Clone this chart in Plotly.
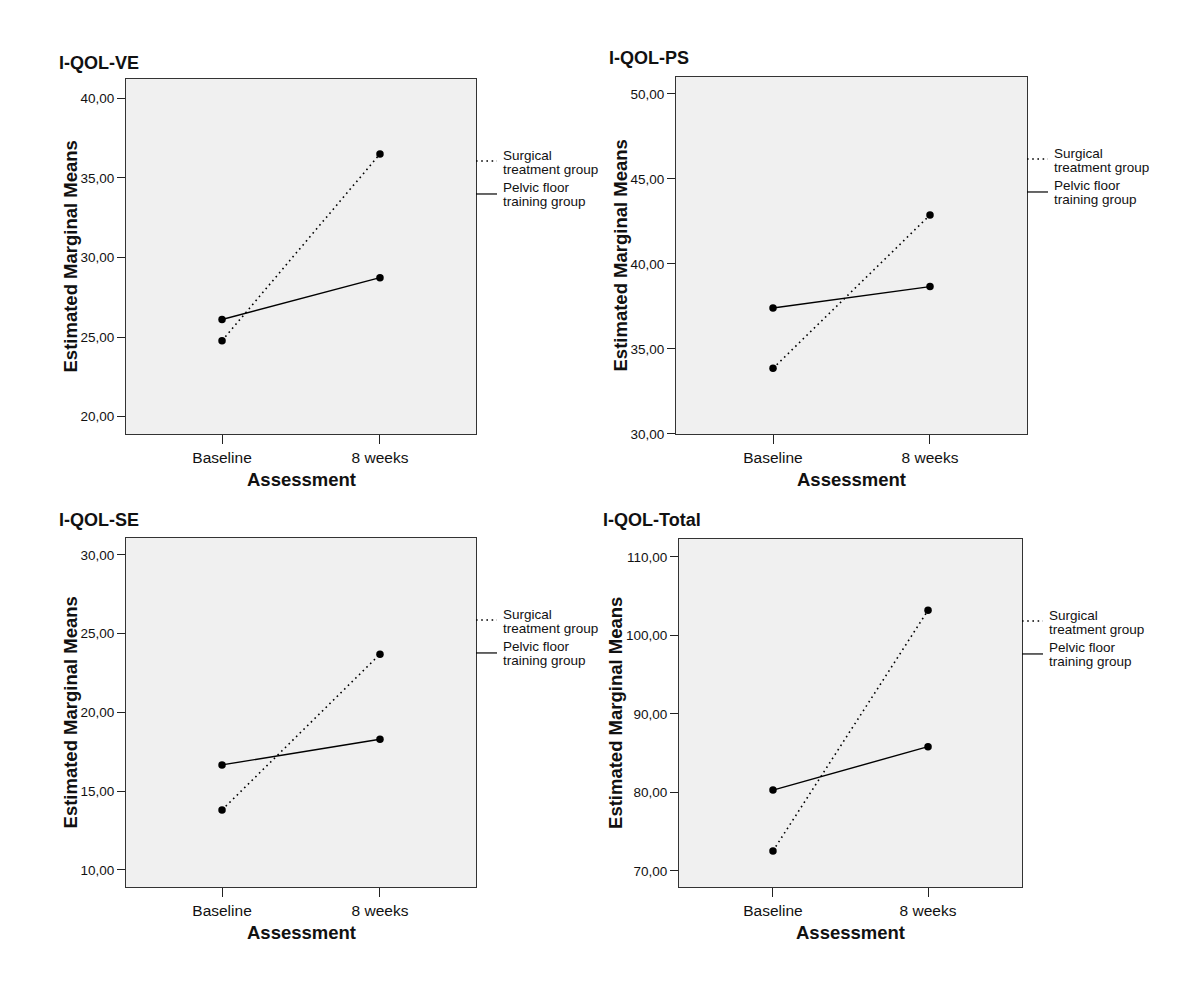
import plotly.graph_objects as go

# ---------------- data ----------------
assessments = ["Baseline", "8 weeks"]
groups = ["Surgical treatment group", "Pelvic floor training group"]

panel_titles = ["I-QOL-VE", "I-QOL-PS", "I-QOL-SE", "I-QOL-Total"]

surgical_ve = [24.77, 36.50]
pelvic_ve = [26.10, 28.73]

surgical_ps = [33.86, 42.88]
pelvic_ps = [37.41, 38.67]

surgical_se = [13.81, 23.70]
pelvic_se = [16.67, 18.30]

surgical_total = [72.55, 103.20]
pelvic_total = [80.30, 85.83]

ticks_ve = [20, 25, 30, 35, 40]
ticklabels_ve = ["20,00", "25,00", "30,00", "35,00", "40,00"]
ticks_ps = [30, 35, 40, 45, 50]
ticklabels_ps = ["30,00", "35,00", "40,00", "45,00", "50,00"]
ticks_se = [10, 15, 20, 25, 30]
ticklabels_se = ["10,00", "15,00", "20,00", "25,00", "30,00"]
ticks_total = [70, 80, 90, 100, 110]
ticklabels_total = ["70,00", "80,00", "90,00", "100,00", "110,00"]

legend_lines = [["Surgical", "treatment group"], ["Pelvic floor", "training group"]]

# ---------------- layout helpers ----------------
W, H = 1200, 1002
YS = 1010 / 1002  # small vertical correction measured on the rendered page
FONT = "Liberation Sans, Arial, Helvetica, sans-serif"


def px(x):
    return x / W


def py(y):
    return 1 - (y * YS) / H


panels = [
    dict(title=panel_titles[0], surg=surgical_ve, pelv=pelvic_ve, ticks=ticks_ve, labels=ticklabels_ve,
         box=(126, 476, 79, 434), yrange=[18.91, 41.21], xrange=[-0.608, 1.608],
         title_xy=(57, 63), ytitle_x=70),
    dict(title=panel_titles[1], surg=surgical_ps, pelv=pelvic_ps, ticks=ticks_ps, labels=ticklabels_ps,
         box=(676, 1027, 77, 434), yrange=[30.0, 51.0], xrange=[-0.618, 1.618],
         title_xy=(607, 58), ytitle_x=620),
    dict(title=panel_titles[2], surg=surgical_se, pelv=pelvic_se, ticks=ticks_se, labels=ticklabels_se,
         box=(126, 476, 538, 887), yrange=[8.92, 31.08], xrange=[-0.608, 1.608],
         title_xy=(57, 520), ytitle_x=70),
    dict(title=panel_titles[3], surg=surgical_total, pelv=pelvic_total, ticks=ticks_total, labels=ticklabels_total,
         box=(679, 1022, 539, 887), yrange=[67.96, 112.29], xrange=[-0.606, 1.606],
         title_xy=(601, 520), ytitle_x=616),
]

fig = go.Figure()
annotations = []
shapes = []
layout_axes = {}

xpos = list(range(len(assessments)))
DOT = "1.6px,3.6px"


def text_ann(x, y, text, size, xanchor="left", angle=0):
    return dict(x=px(x), y=py(y), xref="paper", yref="paper", xanchor=xanchor,
                yanchor="middle", text=text, showarrow=False, textangle=angle,
                font=dict(family=FONT, size=size, color="#111"))


for i, p in enumerate(panels):
    n = "" if i == 0 else str(i + 1)
    xa, ya = "x" + n, "y" + n
    x0, x1, y0, y1 = p["box"]

    fig.add_trace(go.Scatter(
        x=xpos, y=p["surg"], xaxis=xa, yaxis=ya, mode="lines+markers",
        line=dict(color="black", width=1.6, dash=DOT),
        marker=dict(color="black", size=7.5), showlegend=False, name=groups[0]))
    fig.add_trace(go.Scatter(
        x=xpos, y=p["pelv"], xaxis=xa, yaxis=ya, mode="lines+markers",
        line=dict(color="black", width=1.4),
        marker=dict(color="black", size=7.5), showlegend=False, name=groups[1]))

    layout_axes["xaxis" + n] = dict(
        domain=[px(x0), px(x1)], anchor=ya, range=p["xrange"],
        tickvals=xpos, ticktext=assessments, ticks="outside", ticklen=9,
        tickcolor="#222", showline=True, mirror=True, linecolor="#333", linewidth=1,
        showgrid=False, zeroline=False,
        tickfont=dict(family=FONT, size=15.5, color="#111"))
    layout_axes["yaxis" + n] = dict(
        domain=[py(y1), py(y0)], anchor=xa, range=p["yrange"],
        tickvals=p["ticks"], ticktext=p["labels"], ticks="outside", ticklen=8,
        tickcolor="#222", showline=True, mirror=True, linecolor="#333", linewidth=1,
        showgrid=False, zeroline=False,
        tickfont=dict(family=FONT, size=13.5, color="#111"))

    tx, ty = p["title_xy"]
    annotations.append(text_ann(tx, ty, "<b>%s</b>" % p["title"], 18))
    annotations.append(text_ann(p["ytitle_x"], (y0 + y1) / 2,
                                "<b>Estimated Marginal Means</b>", 18.5, "center", -90))
    annotations.append(text_ann((x0 + x1) / 2, y1 + 46, "<b>Assessment</b>", 18.5, "center"))

    # legend to the right of each panel
    ly1 = y0 + 82
    ly2 = y0 + 115
    shapes.append(dict(type="line", xref="paper", yref="paper",
                       x0=px(x1), x1=px(x1 + 21), y0=py(ly1), y1=py(ly1),
                       line=dict(color="black", width=1.4, dash=DOT)))
    shapes.append(dict(type="line", xref="paper", yref="paper",
                       x0=px(x1), x1=px(x1 + 21), y0=py(ly2), y1=py(ly2),
                       line=dict(color="black", width=1.2)))
    annotations.append(text_ann(x1 + 25, ly1 - 5.5, legend_lines[0][0], 13.5))
    annotations.append(text_ann(x1 + 25, ly1 + 8.5, legend_lines[0][1], 13.5))
    annotations.append(text_ann(x1 + 25, ly2 - 6.5, legend_lines[1][0], 13.5))
    annotations.append(text_ann(x1 + 25, ly2 + 7.5, legend_lines[1][1], 13.5))

fig.update_layout(
    width=W, height=H,
    margin=dict(l=0, r=0, t=0, b=0),
    paper_bgcolor="white", plot_bgcolor="#f0f0f0",
    annotations=annotations, shapes=shapes,
    **layout_axes)

fig.write_html(
    "out.html",
    config={"displayModeBar": False},
    post_script="document.body.style.margin='0';document.documentElement.style.overflow='hidden';")
